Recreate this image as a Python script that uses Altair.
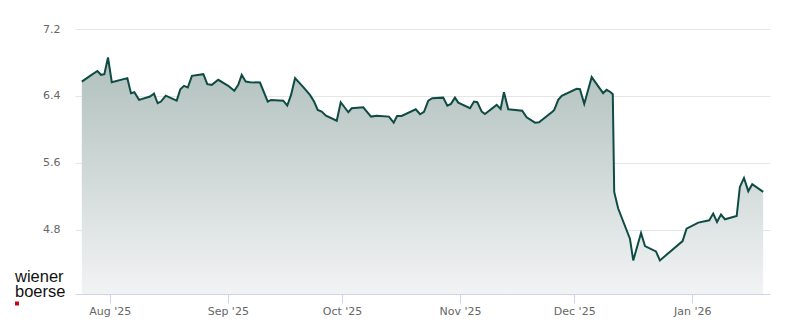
import altair as alt
import pandas as pd

dates = [
    "2025-07-24T16:00", "2025-07-26T20:00", "2025-07-28T18:00", "2025-07-29T17:00",
    "2025-07-30T14:00", "2025-07-31T13:00", "2025-08-01T13:00", "2025-08-05T15:00",
    "2025-08-06T14:00", "2025-08-07T11:00", "2025-08-08T17:00", "2025-08-11T14:00",
    "2025-08-12T15:00", "2025-08-13T14:00", "2025-08-14T11:00", "2025-08-15T17:00",
    "2025-08-18T14:00", "2025-08-19T13:00", "2025-08-20T12:00", "2025-08-21T12:00",
    "2025-08-22T14:00", "2025-08-25T14:00", "2025-08-26T15:00", "2025-08-27T19:00",
    "2025-08-29T12:00", "2025-09-01T03:00", "2025-09-02T17:00", "2025-09-03T18:00",
    "2025-09-04T16:00", "2025-09-05T17:00", "2025-09-06T20:00", "2025-09-09T11:00",
    "2025-09-11T12:00", "2025-09-12T09:00", "2025-09-15T14:00", "2025-09-16T15:00",
    "2025-09-17T15:00", "2025-09-18T16:00", "2025-09-20T20:00", "2025-09-22T14:00",
    "2025-09-23T16:00", "2025-09-24T15:00", "2025-09-25T16:00", "2025-09-26T19:00",
    "2025-09-29T15:00", "2025-09-30T16:00", "2025-10-02T16:00", "2025-10-03T13:00",
    "2025-10-06T14:00", "2025-10-08T15:00", "2025-10-10T03:00", "2025-10-13T08:00",
    "2025-10-14T14:00", "2025-10-15T11:00", "2025-10-16T16:00", "2025-10-20T09:00",
    "2025-10-21T12:00", "2025-10-22T13:00", "2025-10-23T16:00", "2025-10-24T17:00",
    "2025-10-27T14:00", "2025-10-28T16:00", "2025-10-29T15:00", "2025-10-30T16:00",
    "2025-10-31T13:00", "2025-11-03T15:00", "2025-11-04T16:00", "2025-11-05T13:00",
    "2025-11-06T17:00", "2025-11-07T13:00", "2025-11-10T15:00", "2025-11-11T16:00",
    "2025-11-12T13:00", "2025-11-13T16:00", "2025-11-17T08:00", "2025-11-18T12:00",
    "2025-11-20T17:00", "2025-11-21T18:00", "2025-11-25T06:00", "2025-11-25T18:00",
    "2025-11-26T19:00", "2025-11-27T17:00", "2025-12-01T15:00", "2025-12-02T12:00",
    "2025-12-03T15:00", "2025-12-05T14:00", "2025-12-08T14:00", "2025-12-09T12:00",
    "2025-12-10T14:00", "2025-12-11T03:00", "2025-12-11T12:00", "2025-12-12T13:00",
    "2025-12-15T15:00", "2025-12-16T12:00", "2025-12-18T13:00", "2025-12-19T14:00",
    "2025-12-22T11:00", "2025-12-23T12:00", "2025-12-29T11:00", "2025-12-30T12:00",
    "2026-01-02T14:00", "2026-01-05T11:00", "2026-01-06T12:00", "2026-01-07T12:00",
    "2026-01-08T13:00", "2026-01-09T14:00", "2026-01-12T16:00", "2026-01-13T12:00",
    "2026-01-14T14:00", "2026-01-15T17:00", "2026-01-16T18:00", "2026-01-19T15:00",
]

prices = [
    6.571, 6.640, 6.698, 6.652,
    6.660, 6.859, 6.564, 6.612,
    6.432, 6.444, 6.352, 6.392,
    6.428, 6.312, 6.332, 6.403,
    6.344, 6.480, 6.520, 6.500,
    6.640, 6.660, 6.540, 6.532,
    6.592, 6.520, 6.460, 6.532,
    6.652, 6.572, 6.564, 6.559,
    6.332, 6.352, 6.343, 6.284,
    6.412, 6.612, 6.504, 6.412,
    6.332, 6.232, 6.212, 6.163,
    6.103, 6.324, 6.204, 6.252,
    6.264, 6.152, 6.163, 6.152,
    6.080, 6.160, 6.160, 6.240,
    6.180, 6.210, 6.343, 6.372,
    6.379, 6.283, 6.304, 6.379,
    6.319, 6.252, 6.332, 6.324,
    6.212, 6.184, 6.292, 6.244,
    6.444, 6.240, 6.223, 6.144,
    6.080, 6.084, 6.211, 6.232,
    6.352, 6.400, 6.484, 6.480,
    6.304, 6.624, 6.432, 6.472,
    6.444, 6.420, 5.251, 5.052,
    4.692, 4.432, 4.759, 4.603,
    4.540, 4.432, 4.663, 4.812,
    4.884, 4.912, 4.992, 4.891,
    4.980, 4.924, 4.963, 5.311,
    5.419, 5.260, 5.344, 5.251,
]

y_ticks = [4.8, 5.6, 6.4, 7.2]
y_domain = [4.03, 7.2]
logo_lines = ["wiener", "boerse"]

df = pd.DataFrame({"date": dates, "price": prices})

x_enc = alt.X(
    "date:T",
    scale=alt.Scale(domain=[alt.DateTime(year=2025, month=7, date=22, hours=21),
                            alt.DateTime(year=2026, month=1, date=21, hours=10)]),
    axis=alt.Axis(
        title=None, format="%b '%y", tickCount={"interval": "month", "step": 1},
        grid=False, domainColor="#ccd6eb", tickColor="#ccd6eb", tickSize=9,
        labelColor="#666666", labelFontSize=11, labelFont="DejaVu Sans",
        labelPadding=2, labelFlush=False, zindex=1,
    ),
)
y_enc = alt.Y(
    "price:Q",
    scale=alt.Scale(domain=y_domain, nice=False, zero=False),
    axis=alt.Axis(
        title=None, values=y_ticks, format=".1f", domain=False, ticks=False,
        tickSize=0, gridColor="#e6e6e6", labelColor="#666666", labelFontSize=11,
        labelFont="DejaVu Sans", labelPadding=15,
    ),
)

area = alt.Chart(df).mark_area(
    clip=True,
    color=alt.Gradient(
        gradient="linear",
        stops=[alt.GradientStop(color="#b0c0bd", offset=0),
               alt.GradientStop(color="#f2f3f4", offset=1)],
        x1=1, x2=1, y1=0, y2=1,
    )
).encode(x=x_enc, y=y_enc, y2=alt.Y2(datum=y_domain[0]))

line = alt.Chart(df).mark_line(color="#0f4b45", strokeWidth=2).encode(
    x="date:T", y="price:Q"
)

logo1 = alt.Chart(pd.DataFrame({"t": [logo_lines[0]]})).mark_text(
    align="left", baseline="alphabetic", font="Liberation Sans", fontSize=16.5,
    color="#111111"
).encode(x=alt.value(-60), y=alt.value(253), text="t:N")

logo2 = alt.Chart(pd.DataFrame({"t": [logo_lines[1]]})).mark_text(
    align="left", baseline="alphabetic", font="Liberation Sans", fontSize=16.5,
    color="#111111"
).encode(x=alt.value(-60), y=alt.value(268), text="t:N")

red = alt.Chart(pd.DataFrame({"t": [0]})).mark_rect(color="#d0021b").encode(
    x=alt.value(-60), x2=alt.value(-56), y=alt.value(272.5), y2=alt.value(276.5)
)

chart = alt.layer(area, line, logo1, logo2, red).properties(
    width=695, height=265,
    padding={"left": 75, "top": 29, "right": 30, "bottom": 30},
    autosize=alt.AutoSizeParams(type="none"),
    background="white",
).configure_view(stroke=None)

chart.save("out.html", embed_options={"renderer": "svg", "actions": False})
